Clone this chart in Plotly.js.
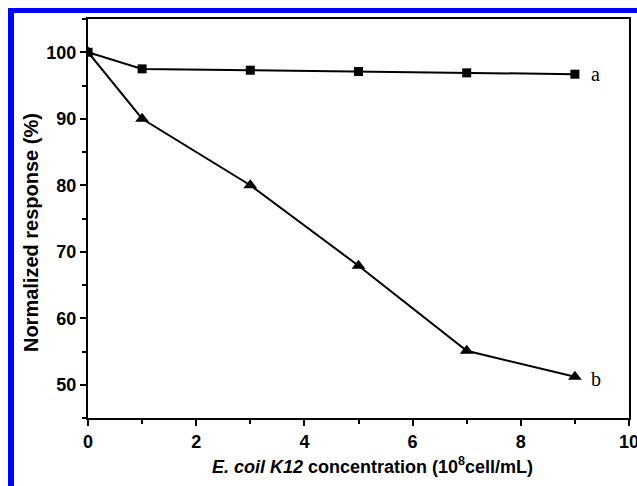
<!DOCTYPE html>
<html><head><meta charset="utf-8">
<script src="https://cdn.plot.ly/plotly-3.0.1.min.js"></script>
<style>
html,body{margin:0;padding:0;background:#fff;}
#chart{width:637px;height:486px;position:relative;}
.bl{position:absolute;background:#0000ff;z-index:10;}
</style></head>
<body>
<div id="chart"></div>
<div class="bl" style="left:8px;top:8px;width:6px;height:478px;"></div>
<div class="bl" style="left:8px;top:8px;width:629px;height:5px;"></div>
<script>
var concentration = [0, 1, 3, 5, 7, 9];
var seriesA = [100, 97.5, 97.3, 97.1, 96.9, 96.7];
var seriesB = [100, 90, 80, 67.9, 55.1, 51.2];
var xTicks = [0, 2, 4, 6, 8, 10];
var yTicks = [50, 60, 70, 80, 90, 100];
var xTitle = '<b><i>E. coil K12</i> concentration (10<sup>8</sup>cell/mL)</b>';
var yTitle = '<b>Normalized response (%)</b>';

var traces = [
  {x: concentration, y: seriesA, mode: 'lines+markers', name: 'a',
   line: {color: '#000', width: 2}, marker: {symbol: 'square', size: 9, color: '#000'}},
  {x: concentration, y: seriesB, mode: 'lines+markers', name: 'b',
   line: {color: '#000', width: 2}, marker: {symbol: 'triangle-up', size: 12, color: '#000'}}
];

var sans = 'Liberation Sans, Arial, sans-serif';
var tickFont = {family: sans, size: 18, color: '#000'};
var layout = {
  width: 637, height: 486,
  margin: {l: 88, r: 8, t: 19, b: 68},
  paper_bgcolor: '#fff', plot_bgcolor: '#fff',
  showlegend: false,
  xaxis: {
    range: [0, 10], tickvals: xTicks, ticktext: xTicks.map(function (v) { return '<b>' + v + '</b>'; }),
    ticks: 'outside', ticklen: 6, tickwidth: 2, tickcolor: '#000', ticklabeloverflow: 'allow',
    minor: {dtick: 1, tick0: 0, ticks: 'outside', ticklen: 4, tickwidth: 2, tickcolor: '#000', showgrid: false},
    showline: true, linewidth: 2, linecolor: '#000', mirror: true,
    showgrid: false, zeroline: false, tickfont: tickFont
  },
  yaxis: {
    range: [45, 105], tickvals: yTicks, ticktext: yTicks.map(function (v) { return '<b>' + v + '</b>'; }),
    ticks: 'outside', ticklen: 6, tickwidth: 2, tickcolor: '#000',
    minor: {dtick: 5, tick0: 45, ticks: 'outside', ticklen: 4, tickwidth: 2, tickcolor: '#000', showgrid: false},
    showline: true, linewidth: 2, linecolor: '#000', mirror: true,
    showgrid: false, zeroline: false, tickfont: tickFont
  },
  annotations: [
    {x: concentration[5], y: seriesA[5], text: 'a', showarrow: false, xanchor: 'left', xshift: 14,
     font: {family: 'Liberation Serif, Times New Roman, serif', size: 20, color: '#000'}},
    {x: concentration[5], y: seriesB[5], text: 'b', showarrow: false, xanchor: 'left', xshift: 14, yshift: -2,
     font: {family: 'Liberation Serif, Times New Roman, serif', size: 20, color: '#000'}},
    {xref: 'paper', yref: 'paper', x: 0.525, y: -0.12, xanchor: 'center', yanchor: 'middle',
     text: xTitle, showarrow: false, font: {family: sans, size: 18, color: '#000'}},
    {xref: 'paper', yref: 'paper', x: -0.105, y: 0.464, xanchor: 'center', yanchor: 'middle',
     text: yTitle, textangle: -90, showarrow: false, font: {family: sans, size: 20, color: '#000'}}
  ]
};
Plotly.newPlot('chart', traces, layout, {displayModeBar: false, staticPlot: true});
</script>
</body></html>
